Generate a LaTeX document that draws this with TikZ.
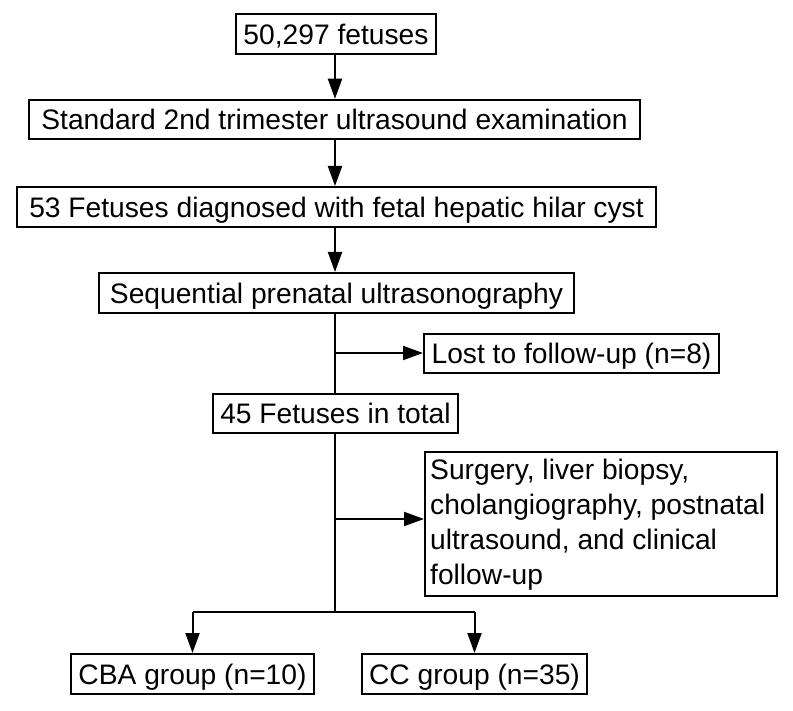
\documentclass[tikz,border=0pt]{standalone}
\usepackage{fontspec}
\setmainfont{Liberation Sans}
\usetikzlibrary{arrows.meta}
\begin{document}
\begin{tikzpicture}[x=1pt,y=-1pt,
  box/.style={draw, line width=2pt, inner xsep=0pt, inner ysep=4pt,
    minimum height=40pt, text height=26pt, text depth=5.5pt,
    font=\fontsize{28.2}{35}\selectfont},
  conn/.style={line width=2pt},
  arr/.style={conn, -{Triangle[length=20pt,width=14pt]}}]
\useasboundingbox (0,0) rectangle (793,711);
\node[box, minimum width=200pt, minimum height=38pt] (a) at (336,34) {50,297 fetuses};
\node[box, minimum width=611pt, minimum height=39pt] (b) at (334.5,119.5) {Standard 2nd trimester ultrasound examination};
\node[box, minimum width=639pt] (c) at (336.5,207) {53 Fetuses diagnosed with fetal hepatic hilar cyst};
\node[box, minimum width=475pt] (d) at (336.5,293) {Sequential prenatal ultrasonography};
\node[box, minimum width=295pt, minimum height=39pt] (e) at (571.5,353.5) {Lost to follow-up (n=8)};
\node[box, minimum width=245pt, minimum height=39pt] (f) at (335.5,413.5) {45 Fetuses in total};
\node[draw, line width=2pt, minimum width=352pt, minimum height=144pt, inner sep=0pt] (g) at (601,524) {};
\node[anchor=west, align=left, inner sep=0pt, font=\fontsize{28.2}{35}\selectfont] (gt) at ([xshift=6pt,yshift=-1pt]g.west)
  {Surgery, liver biopsy,\\cholangiography, postnatal\\ultrasound, and clinical\\follow-up};
\node[box, minimum width=243pt] (h) at (192.5,674) {CBA group (n=10)};
\node[box, minimum width=225pt] (i) at (474.5,674) {CC group (n=35)};
\coordinate (j1) at (335,353);
\coordinate (j2) at (335,519);
\coordinate (j3) at (335,612);
\draw[arr] (a.south -| 335,0) -- (b.north -| 335,0);
\draw[arr] (b.south -| 335,0) -- (c.north -| 335,0);
\draw[arr] (c.south -| 335,0) -- (d.north -| 335,0);
\draw[conn] (d.south -| 335,0) -- (f.north -| 335,0);
\draw[arr] (j1) -- (e.west |- j1);
\draw[conn] (f.south -| 335,0) -- (j3);
\draw[arr] (j2) -- (g.west |- j2);
\draw[conn] (j3 -| h.north) -- (j3 -| i.north);
\draw[arr] (j3 -| h.north) -- (h.north);
\draw[arr] (j3 -| i.north) -- (i.north);
\end{tikzpicture}
\end{document}
